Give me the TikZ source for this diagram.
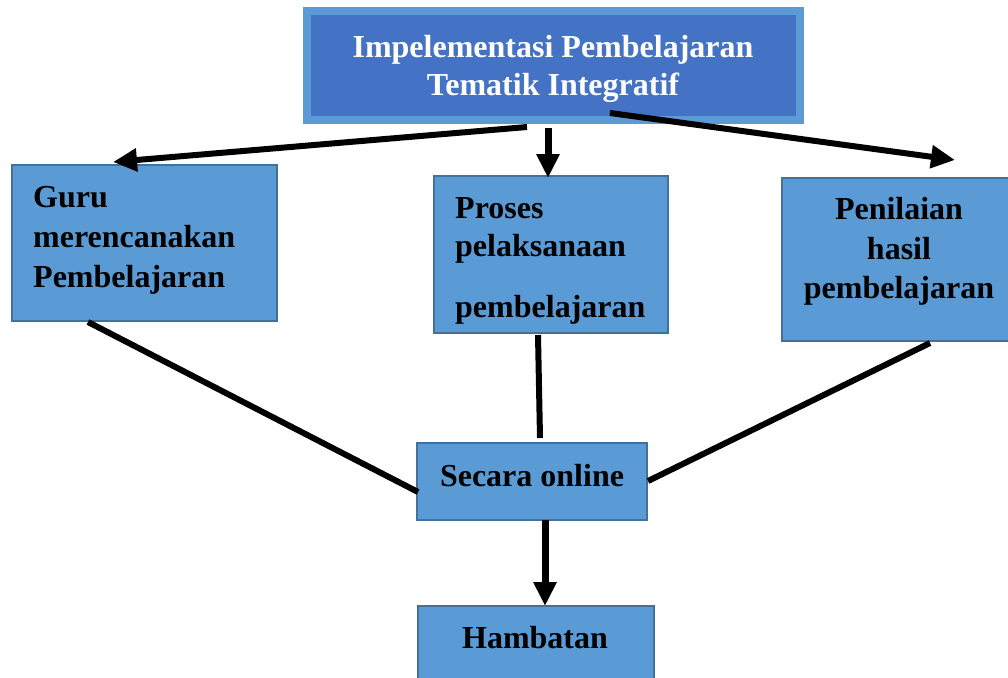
\documentclass[tikz,border=0pt]{standalone}
\usepackage{fontspec}
\setmainfont{Liberation Serif}
\usetikzlibrary{arrows.meta}
\definecolor{lblue}{HTML}{5B9BD5}
\definecolor{dblue}{HTML}{4472C4}
\definecolor{bord}{HTML}{41719C}
\begin{document}
\begin{tikzpicture}[x=1pt,y=-1pt,
  box/.style={draw=bord,fill=lblue,line width=2pt,rectangle,inner sep=0pt},
  txt/.style={font=\fontsize{32}{38}\selectfont\bfseries,inner sep=0pt},
  conn/.style={line width=6pt},
  arr/.style={line width=6pt,-{Triangle[length=24pt,width=22pt]}}]
\clip (0,0) rectangle (1008,677);
\fill[white] (0,0) rectangle (1008,677);
% boxes
\node[draw=lblue,fill=dblue,line width=8pt,minimum width=493pt,minimum height=108.5pt,inner sep=0pt] (top) at (553.5,65.75) {};
\node[txt,text=white,anchor=base] (t1) at (553,57) {Impelementasi Pembelajaran};
\node[txt,text=white,anchor=base] (t2) at (553,95) {Tematik Integratif};

\node[box,minimum width=265pt,minimum height=156pt] (guru) at (144.5,243) {};
\node[txt,anchor=base west] (g1) at (33,207) {Guru};
\node[txt,anchor=base west] (g2) at (33,247) {merencanakan};
\node[txt,anchor=base west] (g3) at (33,287) {Pembelajaran};

\node[box,minimum width=234pt,minimum height=157pt] (proses) at (551,254.5) {};
\node[txt,anchor=base west] (p1) at (455,218) {Proses};
\node[txt,anchor=base west] (p2) at (455,256) {pelaksanaan};
\node[txt,anchor=base west] (p3) at (455,317) {pembelajaran};

\node[box,minimum width=232pt,minimum height=163pt] (nilai) at (898,259.5) {};
\node[txt,anchor=base] (n1) at (899,219) {Penilaian};
\node[txt,anchor=base] (n2) at (899,259) {hasil};
\node[txt,anchor=base] (n3) at (899,298) {pembelajaran};

\node[box,minimum width=230pt,minimum height=77pt] (secara) at (532,481.5) {};
\node[txt,anchor=base] (s1) at (532,486) {Secara online};

\node[box,minimum width=236pt,minimum height=84pt] (hamb) at (535.5,648) {};
\node[txt,anchor=base] (h1) at (535,648) {Hambatan};

% connector coordinates
\coordinate (a1s) at (527,127);
\coordinate (a1e) at (113,162);
\coordinate (a2s) at (548,128);
\coordinate (a2e) at (548,178);
\coordinate (a3s) at (610,113);
\coordinate (a3e) at (955,160);
\coordinate (a4s) at (545,520);
\coordinate (a4e) at (545,606);
\coordinate (l1s) at (88,322);
\coordinate (l1e) at (418,492);
\coordinate (l2s) at (538,335);
\coordinate (l2e) at (540,438);
\coordinate (l3s) at (930,343);
\coordinate (l3e) at (648,481);

\draw[arr] (a1s) -- (a1e);
\draw[arr,line width=7pt] (a2s) -- (a2e);
\draw[arr] (a3s) -- (a3e);
\draw[arr,line width=7pt] (a4s) -- (a4e);
\draw[conn] (l1s) -- (l1e);
\draw[conn] (l2s) -- (l2e);
\draw[conn] (l3s) -- (l3e);
\end{tikzpicture}
\end{document}
